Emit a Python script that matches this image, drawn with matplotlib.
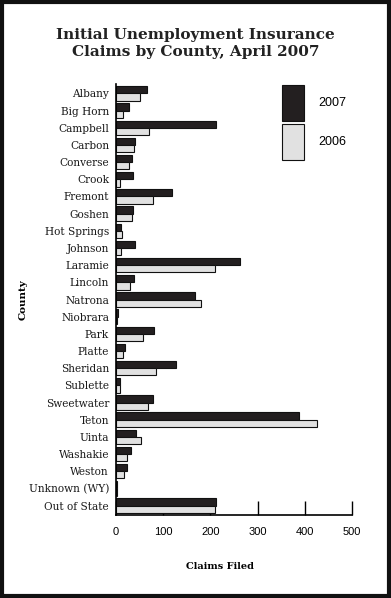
import matplotlib
matplotlib.use("Agg")
import matplotlib.pyplot as plt
import numpy as np
from matplotlib.patches import Rectangle

counties = ["Albany", "Big Horn", "Campbell", "Carbon", "Converse", "Crook", "Fremont",
            "Goshen", "Hot Springs", "Johnson", "Laramie", "Lincoln", "Natrona", "Niobrara",
            "Park", "Platte", "Sheridan", "Sublette", "Sweetwater", "Teton", "Uinta",
            "Washakie", "Weston", "Unknown (WY)", "Out of State"]
claims_2007 = [66, 28, 211, 41, 34, 36, 119, 36, 11, 41, 263, 39, 168, 4, 81, 20, 128, 9, 79,
               387, 43, 32, 24, 2, 212]
claims_2006 = [50, 14, 70, 38, 27, 8, 78, 34, 12, 10, 209, 29, 179, 2, 57, 14, 84, 8, 67,
               425, 53, 23, 17, 3, 209]
xticks = [0, 100, 200, 300, 400, 500]

fig = plt.figure(figsize=(3.91, 5.98), dpi=100)
ax = fig.add_axes([0.2967, 0.1388, 0.6036, 0.7207])

y = np.arange(len(counties))
h = 0.42
ax.barh(y - h / 2, claims_2007, height=h, color="#231f20", edgecolor="#111111",
        linewidth=0.8, label="2007", zorder=3)
ax.barh(y + h / 2, claims_2006, height=h, color="#e1e1e1", edgecolor="#111111",
        linewidth=0.8, label="2006", zorder=3)

ax.set_ylim(len(counties) - 0.45, -0.55)
ax.set_xlim(0, 500)
ax.set_yticks(y)
ax.set_yticklabels(counties, family="DejaVu Serif", fontsize=7.6, color="#1a1a1a")
ax.tick_params(axis="y", length=0, pad=5)
ax.set_xticks(xticks)
ax.set_xticklabels([str(t) for t in xticks], family="Liberation Sans", fontsize=8)
ax.tick_params(axis="x", direction="in", length=10, width=1, pad=9, zorder=5)
for s in ["top", "right"]:
    ax.spines[s].set_visible(False)
for s in ["left", "bottom"]:
    ax.spines[s].set_linewidth(1.2)
    ax.spines[s].set_zorder(5)

ax.set_xlabel("Claims Filed", family="DejaVu Serif", fontweight="bold", fontsize=7)
ax.xaxis.set_label_coords(0.44, -0.108)
ax.set_ylabel("County", family="DejaVu Serif", fontweight="bold", fontsize=7.5)
ax.yaxis.set_label_coords(-0.373, 0.5)

leg = ax.legend(loc="upper left", bbox_to_anchor=(0.655, 1.024), frameon=False,
                prop={"family": "Liberation Sans", "size": 9},
                handlelength=1.75, handleheight=4.1, labelspacing=0.2, handletextpad=1.2)

fig.text(0.5, 0.927, "Initial Unemployment Insurance\nClaims by County, April 2007",
         ha="center", va="center", family="DejaVu Serif", fontweight="bold", fontsize=11,
         linespacing=1.25, color="#222222")

fig.patches.append(Rectangle((0.006, 0.004), 0.988, 0.992, transform=fig.transFigure,
                             fill=False, edgecolor="#111111", linewidth=3))

fig.savefig("out.png", dpi=100)
